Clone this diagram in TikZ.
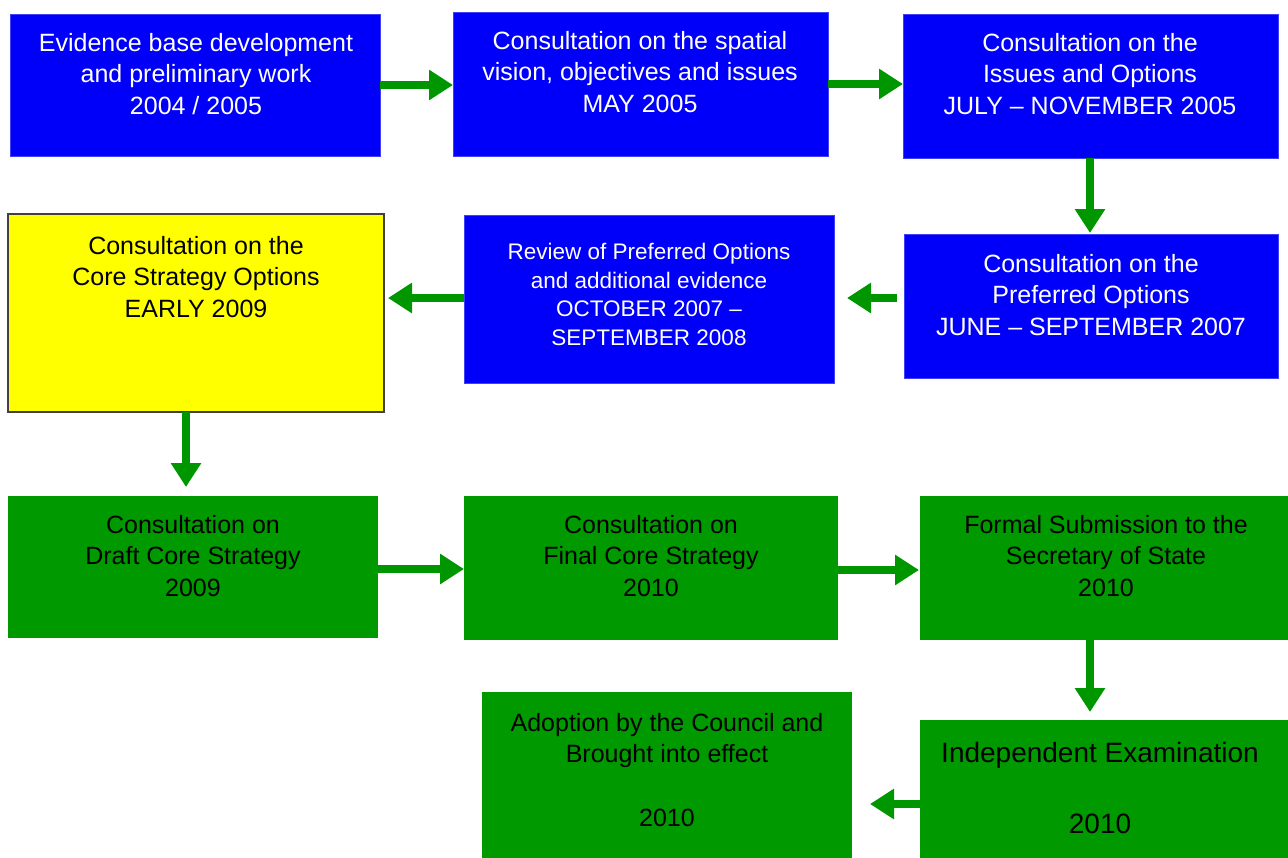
\documentclass[tikz,border=0pt]{standalone}
\usepackage{fontspec}
\setmainfont{Liberation Sans}
\usetikzlibrary{arrows.meta}
\definecolor{bxblue}{RGB}{0,0,250}
\definecolor{bxgreen}{RGB}{0,153,0}
\definecolor{argreen}{RGB}{0,150,0}
\definecolor{bxyellow}{RGB}{255,255,0}
\tikzset{
  x=1pt, y=-1pt,
  box/.style={rectangle, inner sep=0pt, outer sep=0pt, anchor=north west},
  bluebox/.style={box, fill=bxblue, draw=bxblue!75!white, line width=0.8pt},
  greenbox/.style={box, fill=bxgreen, draw=none},
  yellowbox/.style={box, fill=bxyellow, draw=black!75, line width=2pt},
  txt/.style={anchor=north, align=center, inner sep=0pt, font=\fontsize{25}{31.5}\selectfont},
  wtxt/.style={txt, text=white},
  btxt/.style={txt, text=black},
  arr/.style={draw=argreen, line width=8pt, -{Triangle[length=24pt,width=29pt]}},
}
\begin{document}
\begin{tikzpicture}
\useasboundingbox[fill=white] (0,0) rectangle (1288,857);
% boxes
\node[bluebox, minimum width=370, minimum height=142] (B1) at (10,14) {};
\node[bluebox, minimum width=375, minimum height=144] (B2) at (453,12) {};
\node[bluebox, minimum width=375, minimum height=144] (B3) at (903,14) {};
\node[bluebox, minimum width=374, minimum height=144] (B4) at (904,234) {};
\node[bluebox, minimum width=370, minimum height=168] (B5) at (464,215) {};
\node[yellowbox, minimum width=376, minimum height=198] (B6) at (8,214) {};
\node[greenbox, minimum width=370, minimum height=142] (G1) at (8,496) {};
\node[greenbox, minimum width=374, minimum height=144] (G2) at (464,496) {};
\node[greenbox, minimum width=370, minimum height=144] (G3) at (920,496) {};
\node[greenbox, minimum width=370, minimum height=170] (G4) at (482,692) {};
\node[greenbox, minimum width=370, minimum height=140] (G5) at (920,720) {};
% texts
\node[wtxt] (T1) at (196,33) {Evidence base development\\and preliminary work\\2004 / 2005};
\node[wtxt] (T2) at (640,31) {Consultation on the spatial\\vision, objectives and issues\\MAY 2005};
\node[wtxt] (T3) at (1090,33) {Consultation on the\\Issues and Options\\JULY -- NOVEMBER 2005};
\node[wtxt] (T4) at (1091,254) {Consultation on the\\Preferred Options\\JUNE -- SEPTEMBER 2007};
\node[wtxt, font=\fontsize{22.5}{28.7}\selectfont] (T5) at (649,243) {Review of Preferred Options\\and additional evidence\\OCTOBER 2007 --\\SEPTEMBER 2008};
\node[btxt] (T6) at (196,236) {Consultation on the\\Core Strategy Options\\EARLY 2009};
\node[btxt] (T7) at (193,515) {Consultation on\\Draft Core Strategy\\2009};
\node[btxt] (T8) at (651,515) {Consultation on\\Final Core Strategy\\2010};
\node[btxt] (T9) at (1106,515) {Formal Submission to the\\Secretary of State\\2010};
\node[btxt] (T10) at (667,713) {Adoption by the Council and\\Brought into effect\\[32.5pt]2010};
\node[btxt, font=\fontsize{28}{35.5}\selectfont] (T11) at (1100,742) {Independent Examination\\[35.5pt]2010};
% connector end points
\coordinate (c3) at (1090,158);
\coordinate (e3) at (1090,233);
\coordinate (c4) at (897,298);
\coordinate (e4) at (847,298);
\coordinate (c5) at (464,298);
\coordinate (e5) at (388,298);
\coordinate (c6) at (186,412);
\coordinate (e6) at (186,487);
\coordinate (c7) at (378,569);
\coordinate (e7) at (464,569);
\coordinate (c8) at (838,570);
\coordinate (e8) at (919,570);
\coordinate (c9) at (1090,640);
\coordinate (e9) at (1090,712);
\coordinate (c10) at (920,804);
\coordinate (e10) at (870,804);
% connectors
\draw[arr] (B1.east) -- (B2.west |- B1.east);
\draw[arr] (B2.east) -- (B3.west |- B2.east);
\draw[arr] (c3) -- (e3);
\draw[arr] (c4) -- (e4);
\draw[arr] (c5) -- (e5);
\draw[arr] (c6) -- (e6);
\draw[arr] (c7) -- (e7);
\draw[arr] (c8) -- (e8);
\draw[arr] (c9) -- (e9);
\draw[arr] (c10) -- (e10);
\end{tikzpicture}
\end{document}
